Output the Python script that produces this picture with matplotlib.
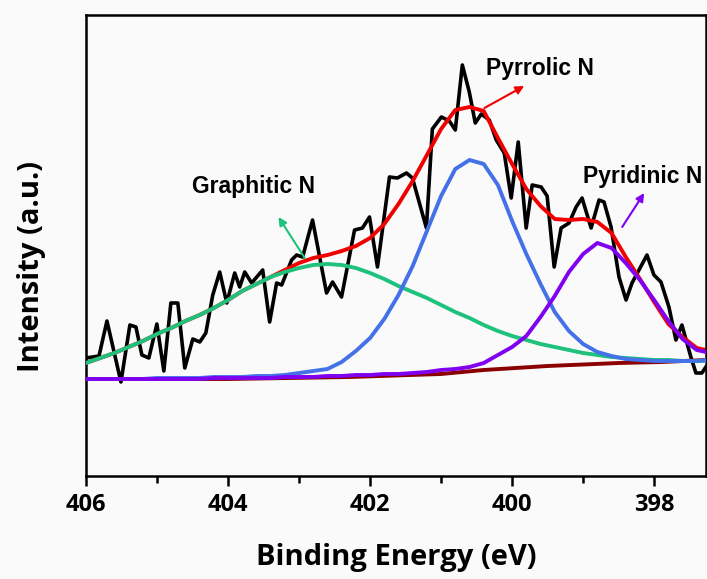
import matplotlib
matplotlib.use('Agg')
import matplotlib.pyplot as plt
from matplotlib.ticker import MultipleLocator

# raw N 1s spectrum (binding energy in eV, intensity in a.u.)
raw_x = [406.000, 405.817, 405.705, 405.508, 405.382, 405.297, 405.213, 405.115, 405.002, 404.904,
         404.805, 404.707, 404.609, 404.496, 404.398, 404.313, 404.215, 404.117, 404.018, 403.906,
         403.836, 403.765, 403.667, 403.512, 403.414, 403.316, 403.245, 403.105, 403.034, 402.950,
         402.810, 402.613, 402.528, 402.402, 402.219, 402.107, 402.008, 401.896, 401.727, 401.615,
         401.488, 401.404, 401.207, 401.123, 400.996, 400.884, 400.800, 400.701, 400.603, 400.519,
         400.434, 400.322, 400.223, 400.111, 400.013, 399.914, 399.802, 399.717, 399.591, 399.507,
         399.408, 399.310, 399.198, 399.099, 399.015, 398.888, 398.776, 398.706, 398.607, 398.495,
         398.396, 398.312, 398.101, 398.003, 397.904, 397.792, 397.694, 397.609, 397.483, 397.412,
         397.328, 397.272]
raw_y = [118, 120, 155, 94, 151, 149, 121, 118, 152, 105,
         173, 173, 108, 137, 134, 143, 181, 204, 173, 203,
         189, 204, 193, 206, 154, 193, 191, 216, 221, 219,
         256, 183, 194, 179, 246, 248, 259, 209, 299, 298,
         303, 298, 248, 347, 359, 355, 346, 411, 384, 353,
         362, 356, 336, 323, 278, 334, 248, 291, 289, 280,
         209, 248, 253, 269, 278, 248, 276, 274, 249, 199,
         176, 193, 221, 201, 194, 169, 136, 151, 119, 103,
         103, 109]

# fitted curves (each includes the background)
fit_x = [406.0, 405.8, 405.6, 405.4, 405.2, 405.0, 404.8, 404.6, 404.4, 404.2,
         404.0, 403.8, 403.6, 403.4, 403.2, 403.0, 402.8, 402.6, 402.4, 402.2,
         402.0, 401.8, 401.6, 401.4, 401.2, 401.0, 400.8, 400.6, 400.4, 400.2,
         400.0, 399.8, 399.6, 399.4, 399.2, 399.0, 398.8, 398.6, 398.4, 398.2,
         398.0, 397.8, 397.6, 397.4, 397.27]
graphitic = [113, 118, 123, 129, 135, 142, 148, 155, 161, 168,
             176, 185, 192, 199, 204, 208, 211, 212, 211, 208,
             203, 197, 190, 184, 178, 171, 164, 158, 151, 145,
             140, 136, 132, 129, 126, 123, 121, 119, 118, 117,
             116, 116, 115, 115, 115]
pyrrolic = [97, 97, 97, 97, 97, 98, 98, 98, 98, 99,
            99, 99, 100, 100, 101, 103, 105, 107, 114, 125,
            138, 157, 181, 210, 245, 280, 307, 316, 312, 291,
            255, 222, 192, 164, 145, 132, 124, 120, 117, 116,
            115, 115, 115, 115, 116]
pyridinic = [97, 97, 97, 97, 97, 97, 97, 97, 97, 98,
             98, 98, 98, 98, 99, 99, 99, 100, 100, 101,
             101, 102, 102, 103, 104, 106, 107, 109, 113, 121,
             129, 140, 159, 180, 204, 222, 233, 228, 213, 196,
             176, 155, 137, 126, 124]
envelope = [113, 118, 123, 129, 135, 142, 148, 155, 161, 168,
            176, 185, 192, 199, 206, 213, 218, 221, 225, 230,
            238, 252, 272, 295, 321, 347, 366, 369, 365, 338,
            312, 287, 270, 257, 256, 257, 254, 243, 219, 197,
            174, 152, 139, 128, 126]
bg_x = [406.0, 404.0, 402.3, 401.0, 400.4, 399.5, 398.5, 397.9, 397.27]
bg_y = [97, 97, 99, 102, 106, 110, 113, 114, 116]

label_font = 'Open Sans'
note_font = 'Liberation Sans'

fig = plt.figure(figsize=(7.07, 5.79), dpi=100, facecolor='#fafafa')
ax = fig.add_axes([86 / 707, 1 - 476 / 579, 620 / 707, 461 / 579])
ax.set_facecolor('#fafafa')

ax.plot(raw_x, raw_y, color='black', lw=2.6, zorder=1)
ax.plot(fit_x, envelope, color='#f00000', lw=2.8, zorder=2)
ax.plot(bg_x, bg_y, color='#8b0000', lw=2.8, zorder=3)
ax.plot(fit_x, graphitic, color='#1ec27c', lw=2.8, zorder=4)
ax.plot(fit_x, pyrrolic, color='#4470e8', lw=2.8, zorder=5)
ax.plot(fit_x, pyridinic, color='#8000f0', lw=2.8, zorder=6)

# peak labels with arrows
notes = [
    ('Graphitic N', (403.64, 290), (402.92, 218), (403.29, 259), '#1ec27c'),
    ('Pyrrolic N', (399.605, 408), (400.39, 368), (399.83, 390), '#f00000'),
    ('Pyridinic N', (398.157, 300), (398.45, 249), (398.14, 283), '#8000f0'),
]
for txt, pos, tail, head, col in notes:
    ax.text(pos[0], pos[1], txt, ha='center', va='center', fontsize=16.5,
            fontweight='bold', family=note_font, zorder=8)
    ax.annotate('', xy=head, xytext=tail,
                arrowprops=dict(arrowstyle='-|>', color=col, lw=1.5, mutation_scale=12,
                                shrinkA=0, shrinkB=0), zorder=8)

ax.set_xlim(406, 397.27)
ax.set_ylim(0, 461)
ax.xaxis.set_major_locator(MultipleLocator(2))
ax.xaxis.set_minor_locator(MultipleLocator(1))
ax.set_yticks([])
ax.tick_params(axis='x', which='major', length=7, width=1.8, direction='out', pad=5)
ax.tick_params(axis='x', which='minor', length=5, width=1.8, direction='out')
for lab in ax.get_xticklabels():
    lab.set_fontfamily(label_font)
    lab.set_fontweight('bold')
    lab.set_fontsize(17)
for sp in ax.spines.values():
    sp.set_linewidth(1.8)

ax.set_xlabel('Binding Energy (eV)', fontsize=21, fontweight='bold', family=label_font)
ax.set_ylabel('Intensity (a.u.)', fontsize=21, fontweight='bold', family=label_font)
ax.xaxis.set_label_coords(0.5, -0.145)
ax.yaxis.set_label_coords(-0.065, 0.455)

fig.savefig('out.png', dpi=100, facecolor=fig.get_facecolor())
